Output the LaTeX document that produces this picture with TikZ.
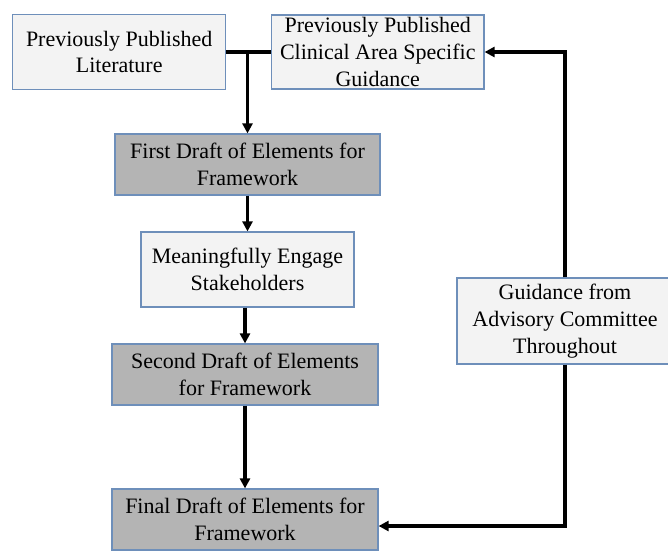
\documentclass[tikz,border=0pt]{standalone}
\usepackage{fontspec}
\setmainfont{Liberation Serif}
\usetikzlibrary{arrows.meta,calc}
\definecolor{bordc}{HTML}{6E8FBA}
\definecolor{lightf}{HTML}{F3F3F3}
\definecolor{darkf}{HTML}{B4B4B4}
\tikzset{
  box/.style={draw=bordc, line width=1.2pt, inner sep=0pt, align=center,
    font=\fontsize{22}{26.7}\selectfont, text=black},
  lightbox/.style={box, fill=lightf},
  darkbox/.style={box, fill=darkf},
  conn/.style={line width=3.2pt, black},
  arr/.style={conn, -{Triangle[length=10pt,width=10pt]}}
}
\begin{document}
\begin{tikzpicture}[x=1pt,y=-1pt]
\useasboundingbox (0,0) rectangle (668,550);
\node[lightbox, minimum width=213pt, minimum height=74.6pt] (b1) at (119.2,52) {Previously Published\\Literature};
\node[lightbox, minimum width=212.5pt, minimum height=74pt] (b2) at (377.75,52) {Previously Published\\Clinical Area Specific\\Guidance};
\node[darkbox, minimum width=265pt, minimum height=61pt] (f1) at (247.5,164.5) {First Draft of Elements for\\Framework};
\node[lightbox, minimum width=213pt, minimum height=75pt] (me) at (247.5,269.5) {Meaningfully Engage\\Stakeholders};
\node[darkbox, minimum width=266pt, minimum height=61pt] (s2) at (245,374.5) {Second Draft of Elements\\for Framework};
\node[darkbox, minimum width=266pt, minimum height=61pt] (fi) at (245,519.5) {Final Draft of Elements for\\Framework};
\node[lightbox, minimum width=216pt, minimum height=86pt] (gd) at (565,321) {Guidance from\\Advisory Committee\\Throughout};
\coordinate (j1) at (f1.north |- b1.east);
\draw[conn] (b1.east) -- (b2.west);
\draw[arr] (j1) -- (f1.north);
\draw[arr] (f1.south) -- (me.north);
\draw[arr] (me.south -| s2.north) -- (s2.north);
\draw[arr] (s2.south) -- (fi.north);
\draw[arr] (gd.north) |- (b2.east);
\draw[arr] (gd.south) |- ([yshift=-6.5pt]fi.east);
\end{tikzpicture}
\end{document}
